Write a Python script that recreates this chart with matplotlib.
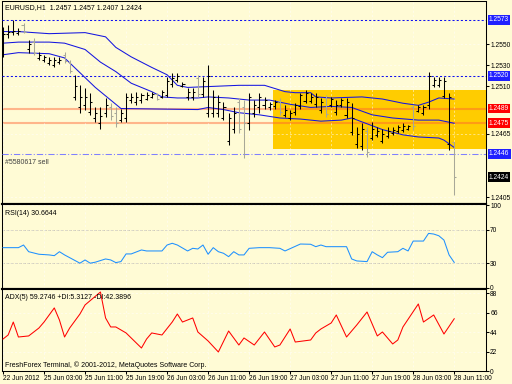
import numpy as np
import matplotlib
matplotlib.use('Agg')
import matplotlib.pyplot as plt
from matplotlib.patches import Rectangle

matplotlib.rcParams['font.family'] = ['Liberation Sans', 'DejaVu Sans']
matplotlib.rcParams['font.size'] = 5

# EURUSD H1 bars, 22 Jun 2012 19:00 .. 28 Jun 2012 11:00
opens = [1.2540, 1.2560, 1.2562, 1.2561, 1.2568, 1.2545, 1.2552, 1.2537, 1.2535, 1.2532,
         1.2530, 1.2533, 1.2540, 1.2533, 1.2500, 1.2490, 1.2492, 1.2486, 1.2480, 1.2475,
         1.2485, 1.2490, 1.2485, 1.2478, 1.2480, 1.2497, 1.2495, 1.2497, 1.2498, 1.2500,
         1.2503, 1.2500, 1.2502, 1.2512, 1.2516, 1.2510, 1.2500, 1.2500, 1.2518, 1.2503,
         1.2485, 1.2485, 1.2485, 1.2480, 1.2458, 1.2470, 1.2495, 1.2490, 1.2475, 1.2485,
         1.2490, 1.2492, 1.2490, 1.2491, 1.2496, 1.2483, 1.2480, 1.2486, 1.2491, 1.2496,
         1.2496, 1.2493, 1.2488, 1.2499, 1.2492, 1.2486, 1.2492, 1.2483, 1.2467, 1.2455,
         1.2453, 1.2468, 1.2461, 1.2464, 1.2458, 1.2463, 1.2466, 1.2468, 1.2469, 1.2470,
         1.2490, 1.2487, 1.2485, 1.2492, 1.2511, 1.2511, 1.2501, 1.2455, 1.2457]
highs = [1.2566, 1.2568, 1.2573, 1.2565, 1.2570, 1.2554, 1.2556, 1.2543, 1.2540, 1.2538,
         1.2538, 1.2538, 1.2543, 1.2535, 1.2521, 1.2511, 1.2508, 1.2504, 1.2490, 1.2490,
         1.2499, 1.2494, 1.2490, 1.2489, 1.2504, 1.2504, 1.2505, 1.2504, 1.2505, 1.2505,
         1.2504, 1.2507, 1.2519, 1.2523, 1.2523, 1.2514, 1.2508, 1.2508, 1.2521, 1.2519,
         1.2530, 1.2507, 1.2502, 1.2495, 1.2485, 1.2490, 1.2499, 1.2497, 1.2504, 1.2497,
         1.2504, 1.2500, 1.2495, 1.2497, 1.2499, 1.2492, 1.2488, 1.2494, 1.2504, 1.2507,
         1.2504, 1.2504, 1.2499, 1.2502, 1.2500, 1.2497, 1.2499, 1.2499, 1.2494, 1.2471,
         1.2475, 1.2471, 1.2476, 1.2471, 1.2470, 1.2471, 1.2471, 1.2473, 1.2475, 1.2473,
         1.2492, 1.2492, 1.2492, 1.2524, 1.2519, 1.2519, 1.2519, 1.2504, 1.2457]
lows = [1.2538, 1.2556, 1.2559, 1.2559, 1.2561, 1.2542, 1.2540, 1.2535, 1.2533, 1.2530,
        1.2528, 1.2531, 1.2532, 1.2523, 1.2497, 1.2485, 1.2488, 1.2483, 1.2476, 1.2470,
        1.2481, 1.2478, 1.2471, 1.2476, 1.2476, 1.2494, 1.2492, 1.2494, 1.2497, 1.2499,
        1.2497, 1.2499, 1.2500, 1.2509, 1.2514, 1.2509, 1.2497, 1.2497, 1.2500, 1.2500,
        1.2481, 1.2481, 1.2481, 1.2478, 1.2454, 1.2466, 1.2466, 1.2442, 1.2469, 1.2481,
        1.2485, 1.2489, 1.2488, 1.2489, 1.2483, 1.2481, 1.2478, 1.2483, 1.2489, 1.2494,
        1.2494, 1.2490, 1.2485, 1.2481, 1.2490, 1.2483, 1.2490, 1.2480, 1.2464, 1.2452,
        1.2450, 1.2443, 1.2459, 1.2462, 1.2456, 1.2461, 1.2464, 1.2466, 1.2467, 1.2469,
        1.2469, 1.2486, 1.2483, 1.2489, 1.2509, 1.2509, 1.2499, 1.2450, 1.2407]
closes = [1.2560, 1.2562, 1.2563, 1.2563, 1.2562, 1.2550, 1.2542, 1.2540, 1.2538, 1.2535,
          1.2535, 1.2535, 1.2534, 1.2525, 1.2510, 1.2500, 1.2500, 1.2495, 1.2485, 1.2482,
          1.2492, 1.2482, 1.2475, 1.2485, 1.2500, 1.2500, 1.2500, 1.2502, 1.2502, 1.2503,
          1.2498, 1.2505, 1.2515, 1.2518, 1.2520, 1.2512, 1.2505, 1.2505, 1.2503, 1.2515,
          1.2520, 1.2500, 1.2495, 1.2490, 1.2480, 1.2485, 1.2470, 1.2475, 1.2500, 1.2492,
          1.2500, 1.2497, 1.2493, 1.2495, 1.2486, 1.2488, 1.2485, 1.2492, 1.2502, 1.2504,
          1.2500, 1.2500, 1.2495, 1.2484, 1.2498, 1.2492, 1.2497, 1.2495, 1.2480, 1.2465,
          1.2470, 1.2448, 1.2470, 1.2468, 1.2465, 1.2468, 1.2469, 1.2471, 1.2472, 1.2472,
          1.2472, 1.2490, 1.2490, 1.2520, 1.2516, 1.2516, 1.2515, 1.2500, 1.2424]

# bands (bar index, price)
upper_idx = [0, 3, 9, 16, 20, 22, 25, 29, 32, 34, 36, 46, 51, 53, 55, 57, 60, 61, 64, 70, 74, 78, 81, 83, 85, 88]
upper = [1.2562, 1.2562, 1.2560, 1.2561, 1.2557, 1.2547, 1.2538, 1.2528, 1.2521, 1.2511, 1.2509, 1.2511, 1.2511,
         1.2508, 1.2505, 1.2504, 1.2504, 1.2500, 1.2499, 1.2500, 1.2498, 1.2494, 1.2492, 1.2495, 1.2499, 1.2498]
middle_idx = [0, 3, 9, 12, 16, 19, 22, 25, 29, 31, 34, 38, 40, 44, 48, 52, 56, 60, 64, 68, 72, 76, 81, 85, 88]
middle = [1.2551, 1.2552, 1.2552, 1.2551, 1.2545, 1.2533, 1.2524, 1.2513, 1.2505, 1.2500, 1.2499, 1.2499, 1.2500,
          1.2499, 1.2497, 1.2497, 1.2493, 1.2490, 1.2491, 1.2490, 1.2483, 1.2480, 1.2478, 1.2478, 1.2475]
lower_idx = [0, 3, 9, 12, 15, 18, 21, 23, 38, 40, 43, 46, 50, 54, 58, 62, 66, 68, 74, 78, 81, 85, 86, 88]
lower = [1.2540, 1.2542, 1.2541, 1.2537, 1.2523, 1.2509, 1.2497, 1.2489, 1.2488, 1.2490, 1.2488, 1.2485, 1.2483,
         1.2480, 1.2479, 1.2477, 1.2478, 1.2480, 1.2469, 1.2464, 1.2462, 1.2461, 1.2459, 1.2452]

rsi_idx = [0, 3, 4, 5, 7, 9, 10, 11, 12, 15, 16, 17, 18, 20, 21, 22, 23, 24, 25, 27, 28, 31, 32, 33, 34, 36, 37,
           38, 39, 40, 41, 42, 43, 44, 45, 46, 47, 48, 50, 52, 54, 55, 58, 60, 61, 62, 63, 67, 68, 69, 71, 72, 73,
           74, 75, 77, 78, 79, 80, 82, 83, 84, 85, 86, 87, 88]
rsi = [48.6, 48.6, 51.8, 43.7, 40.6, 39.8, 38.9, 43.7, 39.8, 29.8, 33.7, 29.8, 31.0, 34.9, 33.7, 30.5, 31.7, 41.0,
       41.0, 45.8, 44.6, 44.6, 51.8, 53.9, 51.8, 44.6, 47.8, 47.0, 51.8, 40.6, 48.6, 43.7, 41.8, 37.7, 43.7, 39.8,
       39.8, 47.8, 48.6, 48.6, 47.8, 44.6, 53.0, 52.7, 49.8, 51.8, 49.8, 49.8, 34.9, 32.5, 31.7, 43.7, 39.8, 36.5,
       43.0, 43.7, 47.8, 44.6, 56.6, 56.6, 65.9, 65.1, 63.0, 57.8, 39.8, 30.7]

adx_idx = [0, 1, 2, 3, 5, 7, 8, 10, 11, 12, 13, 15, 16, 19, 20, 21, 22, 24, 27, 28, 29, 31, 33, 34, 35, 37, 38,
           40, 42, 44, 46, 47, 49, 51, 53, 54, 56, 57, 60, 61, 62, 64, 65, 67, 69, 71, 73, 74, 76, 77, 78, 81, 82,
           84, 86, 88]
adx = [36.3, 40.9, 55.6, 38.6, 39.8, 48.8, 55.6, 71.6, 57.9, 38.6, 48.8, 64.7, 75.0, 89.7, 60.2, 50.0, 50.0, 43.2,
       26.1, 36.3, 43.2, 40.9, 55.6, 64.7, 55.6, 60.2, 44.3, 34.1, 21.6, 45.4, 29.5, 37.5, 29.5, 44.3, 27.3, 29.5,
       47.7, 32.9, 35.2, 43.2, 47.7, 54.5, 63.6, 38.6, 52.3, 67.0, 39.8, 44.3, 30.7, 35.2, 50.0, 76.1, 55.6, 63.6,
       42.0, 59.3]

time_labels = ['22 Jun 2012', '25 Jun 03:00', '25 Jun 11:00', '25 Jun 19:00', '26 Jun 03:00', '26 Jun 11:00',
               '26 Jun 19:00', '27 Jun 03:00', '27 Jun 11:00', '27 Jun 19:00', '28 Jun 03:00', '28 Jun 11:00']

bg = '#FFFBD5'
W, H = 512, 384
LW = 0.75  # one pixel
fig = plt.figure(figsize=(5.12, 3.84), dpi=100, facecolor=bg)

def box(top, bottom):
    return [2 / W, 1 - bottom / H, 484 / W, (bottom - top) / H]

ax = fig.add_axes(box(1, 204))
ax_rsi = fig.add_axes(box(204, 289), sharex=ax)
ax_adx = fig.add_axes(box(289, 371), sharex=ax)

n = len(closes)
xlim = (-0.2, 94.2)

for a in (ax, ax_rsi, ax_adx):
    a.set_facecolor(bg)
    a.yaxis.tick_right()
    a.tick_params(axis='y', length=2, width=LW, pad=1, labelsize=4.8, direction='out')
    a.tick_params(axis='x', length=2, width=LW, pad=1, labelsize=4.8)
    for s in a.spines.values():
        s.set_linewidth(LW)
    a.set_axisbelow('line')
    a.grid(True, color='white', alpha=0.7, lw=0.5, ls=(0, (3, 3)))
ax.spines['bottom'].set_linewidth(1.5)
ax_rsi.spines['bottom'].set_linewidth(1.5)
ax_rsi.spines['top'].set_linewidth(1.5)
ax_adx.spines['top'].set_linewidth(1.5)

# ---- main price panel
ax.set_xlim(xlim)
ax.set_ylim(1.23984, 1.2591)
ax.add_patch(Rectangle((52.7, 1.2451), 60, 1.2507 - 1.2451, fc='#FFCC00', ec='none', zorder=1))

for lvl in (1.2573, 1.2520):
    ax.axhline(lvl, color='#1010F0', lw=LW, ls=(0, (2, 2)), zorder=3)
for lvl in (1.2489, 1.2475):
    ax.axhline(lvl, color='#FF6030', alpha=0.45, lw=1.5, zorder=1.2)
ax.axhline(1.2446, color='#8080FF', lw=LW, ls=(0, (6, 2, 1, 2)), zorder=3)

ax.plot(upper_idx, upper, color='#1515E0', lw=LW, zorder=2)
ax.plot(middle_idx, middle, color='#1515E0', lw=LW, zorder=2)
ax.plot(lower_idx, lower, color='#1515E0', lw=LW, zorder=2)

for i in range(n):
    c = 'black' if closes[i] >= opens[i] else '#A8A898'
    ax.vlines(i, lows[i], highs[i], color=c, lw=LW, zorder=4)
    ax.hlines(opens[i], i - 0.4, i, color=c, lw=LW, zorder=4)
    ax.hlines(closes[i], i, i + 0.4, color=c, lw=LW, zorder=4)

price_ticks = [1.2405, 1.2465, 1.2510, 1.2530, 1.2550]
ax.set_yticks(price_ticks, [f'{p:.4f}' for p in price_ticks])
ax.tick_params(axis='x', labelbottom=False, length=0)

tr = ax.get_yaxis_transform()
for p, fc in [(1.2573, '#2020FF'), (1.2520, '#2020FF'), (1.2489, '#FF0000'),
              (1.2475, '#FF0000'), (1.2446, '#2020FF'), (1.2424, 'black')]:
    ax.text(1.006, p, f'{p:.4f}', transform=tr, color='white', fontsize=4.8, va='center', ha='left',
            bbox=dict(boxstyle='square,pad=0.2', fc=fc, ec='none'), zorder=6, clip_on=False)

ax.text(0.006, 0.985, 'EURUSD,H1  1.2457 1.2457 1.2407 1.2424', transform=ax.transAxes,
        va='top', ha='left', fontsize=5)
ax.text(0.006, 1.2438, '#5580617 sell', transform=tr, va='center', ha='left', fontsize=5, color='#404040')

# ---- RSI panel
ax_rsi.set_ylim(-1.5, 101.5)
ax_rsi.plot(rsi_idx, rsi, color='#1E90FF', lw=LW, zorder=3)
for lvl in (70, 30):
    ax_rsi.axhline(lvl, color='#B0A890', lw=0.6, ls=(0, (3, 2)), zorder=1)
ax_rsi.set_yticks([0, 30, 70, 100], ['0', '30', '70', '100'])
ax_rsi.tick_params(axis='x', labelbottom=False, length=0)
ax_rsi.text(0.006, 0.93, 'RSI(14) 30.6644', transform=ax_rsi.transAxes, va='top', ha='left', fontsize=5)

# ---- ADX panel
ax_adx.set_ylim(0, 93.1)
ax_adx.plot(adx_idx, adx, color='#FF0000', lw=LW, zorder=3)
ax_adx.set_yticks([0, 22, 44, 66, 88], ['0', '22', '44', '66', '88'])
ax_adx.set_xticks(np.arange(0, 89, 8), time_labels)
for lab in ax_adx.get_xticklabels():
    lab.set_ha('left')
ax_adx.text(0.006, 0.94, 'ADX(5) 59.2746 +DI:5.3127 -DI:42.3896', transform=ax_adx.transAxes,
            va='top', ha='left', fontsize=5)
ax_adx.text(0.006, 0.03, 'FreshForex Terminal, \u00a9 2001-2012, MetaQuotes Software Corp.',
            transform=ax_adx.transAxes, va='bottom', ha='left', fontsize=5)

fig.savefig('out.png', dpi=100, facecolor=bg)
